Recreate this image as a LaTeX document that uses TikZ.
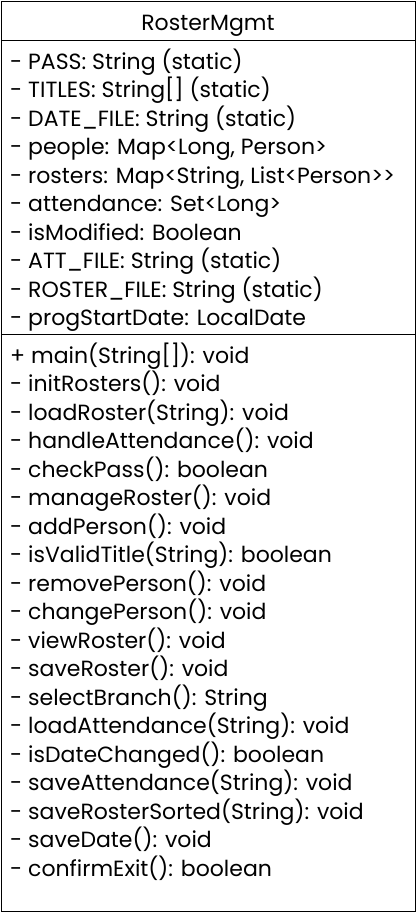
\documentclass[tikz,border=0pt]{standalone}
\usepackage{fontspec}
\setmainfont{Poppins}[Ligatures=TeXOff]
\begin{document}
\begin{tikzpicture}[x=1pt,y=-1pt,
	member/.style={anchor=base west,inner sep=0pt,font=\fontsize{22}{26}\selectfont},
	title/.style={anchor=base,inner sep=0pt,font=\fontsize{22}{26}\selectfont}]
	\useasboundingbox (0,0) rectangle (417,913);
	%BOX
	\draw[line width=1pt] (1,1) rectangle (415.5,911);
	\draw[line width=1pt] (1,40.5) coordinate(hl) -- (415.5,40.5) coordinate(hr);
	\draw[line width=1pt] (1,334.5) coordinate(al) -- (415.5,334.5) coordinate(ar);
	%NAME
	\node[title] (name) at (208,30) {RosterMgmt};
	%ATTRIBUTES
	\foreach \txt [count=\i] in {{- PASS: String (static)},{- TITLES: String[] (static)},
		{- DATE\_FILE: String (static)},{- people: Map<Long, Person>},
		{- rosters: Map<String, List<Person>>},{- attendance: Set<Long>},
		{- isModified: Boolean},{- ATT\_FILE: String (static)},
		{- ROSTER\_FILE: String (static)},{- progStartDate: LocalDate}}
		\node[member] (att\i) at (10,{69+28.5*(\i-1)}) {\txt};
	%METHODS
	\foreach \txt [count=\i] in {{+ main(String[]): void},{- initRosters(): void},
		{- loadRoster(String): void},{- handleAttendance(): void},
		{- checkPass(): boolean},{- manageRoster(): void},{- addPerson(): void},
		{- isValidTitle(String): boolean},{- removePerson(): void},
		{- changePerson(): void},{- viewRoster(): void},{- saveRoster(): void},
		{- selectBranch(): String},{- loadAttendance(String): void},
		{- isDateChanged(): boolean},{- saveAttendance(String): void},
		{- saveRosterSorted(String): void},{- saveDate(): void},
		{- confirmExit(): boolean}}
		\node[member] (met\i) at (10,{363+28.5*(\i-1)}) {\txt};
\end{tikzpicture}
\end{document}
